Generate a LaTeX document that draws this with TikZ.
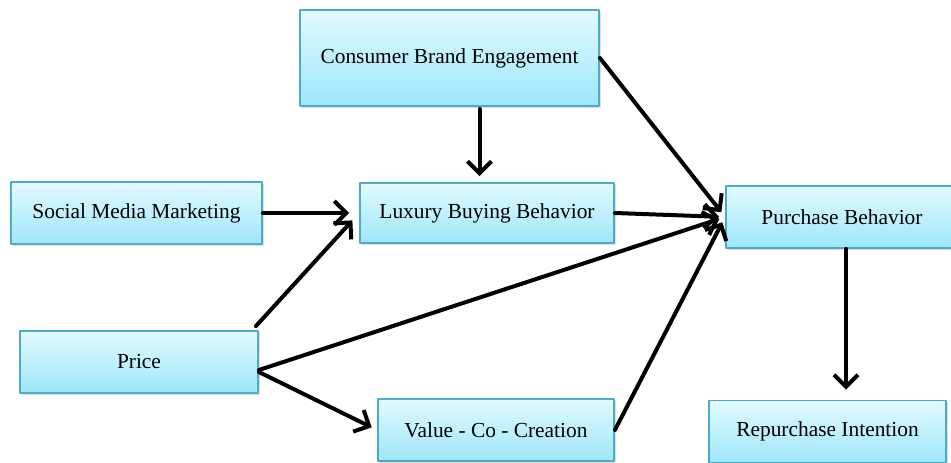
\documentclass[tikz,border=0pt]{standalone}
\usepackage{fontspec}
\setmainfont{Liberation Serif}
\usetikzlibrary{arrows.meta,shadows}
\definecolor{boxtop}{RGB}{226,250,255}
\definecolor{boxbottom}{RGB}{158,230,250}
\definecolor{boxline}{RGB}{75,172,198}
\begin{document}
\begin{tikzpicture}[x=0.5pt, y=-0.5pt, line join=round, line cap=round,
		factor/.style={draw=boxline, line width=0.9pt, top color=boxtop, bottom color=boxbottom,
			drop shadow={shadow xshift=0.8pt, shadow yshift=-0.8pt, opacity=0.25},
			inner sep=0pt, font=\fontsize{10.7}{13}\selectfont},
		link/.style={line width=2pt, -{Straight Barb[length=6pt, width=12pt]}, shorten >=3pt}]
			\useasboundingbox (0,0) rectangle (951,462);
			\node[factor, minimum width=149.5pt, minimum height=48pt] (cbe) at (449.5,58) {Consumer Brand Engagement};
			\node[factor, minimum width=125.5pt, minimum height=31pt] (smm) at (136.5,213) {Social Media Marketing};
			\node[factor, minimum width=127pt, minimum height=30pt] (lbb) at (487,213) {Luxury Buying Behavior};
			\node[factor, minimum width=116pt, minimum height=31pt] (pb) at (842,217) {Purchase Behavior};
			\node[factor, minimum width=119pt, minimum height=31pt] (price) at (139,362) {Price};
			\node[factor, minimum width=118pt, minimum height=31pt] (vcc) at (496,430) {Value - Co - Creation};
			\node[factor, minimum width=118.5pt, minimum height=31pt] (ri) at (827.5,431.5) {Repurchase Intention};
			\draw[link] ([xshift=15pt, yshift=-1pt]cbe.south) -- ([xshift=15pt]cbe.south |- lbb.north);
			\draw[link, shorten >=5pt] (smm.east) -- (lbb.west);
			\draw[link, shorten >=5pt] ([shift={(-3,-4)}]price.north east) -- (lbb.west);
			\draw[link] (cbe.east) -- (pb.west);
			\draw[link] (lbb.east) -- (pb.west);
			\draw[link] ([yshift=-4pt]price.east) -- (pb.west);
			\draw[link] ([yshift=-5pt]price.east) -- (vcc.west);
			\draw[link] (vcc.east) -- (pb.west);
			\draw[link, shorten >=5pt] ([xshift=2pt]pb.south) -- ([xshift=2pt]pb.south |- ri.north);
	\end{tikzpicture}
\end{document}
